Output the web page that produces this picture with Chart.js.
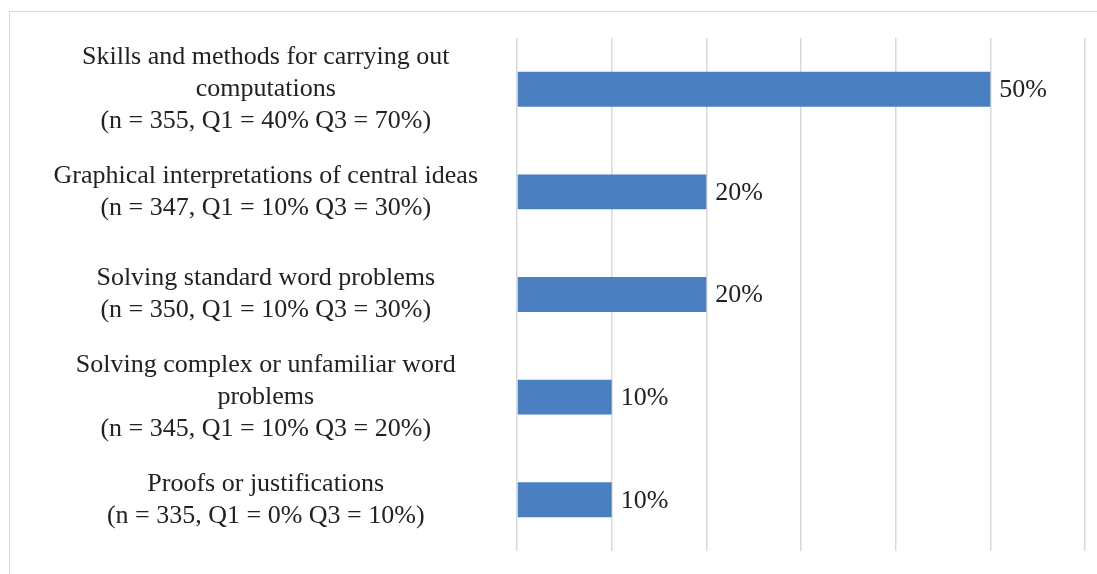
<!DOCTYPE html>
<html>
<head>
<meta charset="utf-8">
<script src="https://cdn.jsdelivr.net/npm/chart.js@4/dist/chart.umd.min.js"></script>
<style>
  body { margin: 0; background: #fff; overflow: hidden; }
  #frame { position: absolute; left: 9px; top: 11px; width: 1200px; height: 600px; border: 1.5px solid #d9d9d9; }
  #wrap { position: absolute; left: 0; top: 0; width: 1097px; height: 574px; }
</style>
</head>
<body>
<div id="frame"></div>
<div id="wrap"><canvas id="chart"></canvas></div>
<script>
const categories = [
  ['Skills and methods for carrying out', 'computations', '(n = 355, Q1 = 40% Q3 = 70%)'],
  ['Graphical interpretations of central ideas', '(n = 347, Q1 = 10% Q3 = 30%)'],
  ['Solving standard word problems', '(n = 350, Q1 = 10% Q3 = 30%)'],
  ['Solving complex or unfamiliar word', 'problems', '(n = 345, Q1 = 10% Q3 = 20%)'],
  ['Proofs or justifications', '(n = 335, Q1 = 0% Q3 = 10%)']
];
const medians = [50, 20, 20, 10, 10];
const axisMax = 60;

const serif = '"Liberation Serif", "Times New Roman", serif';

// draws the value at the end of each bar
const valueLabels = {
  id: 'valueLabels',
  afterDatasetsDraw(chart) {
    const ctx = chart.ctx;
    const meta = chart.getDatasetMeta(0);
    ctx.save();
    ctx.font = '26px ' + serif;
    ctx.fillStyle = '#222';
    ctx.textAlign = 'left';
    ctx.textBaseline = 'middle';
    meta.data.forEach((bar, i) => {
      ctx.fillText(medians[i] + '%', bar.x + 9, bar.y + 1);
    });
    ctx.restore();
  }
};

new Chart(document.getElementById('chart'), {
  type: 'bar',
  data: {
    labels: categories,
    datasets: [{
      data: medians,
      backgroundColor: '#4a7fc1',
      categoryPercentage: 1,
      barPercentage: 0.34
    }]
  },
  options: {
    indexAxis: 'y',
    responsive: true,
    maintainAspectRatio: false,
    animation: false,
    layout: { padding: { top: 38, bottom: 23, right: 12, left: 0 } },
    plugins: { legend: { display: false }, tooltip: { enabled: false } },
    scales: {
      x: {
        min: 0,
        max: axisMax,
        ticks: { display: false, stepSize: 10 },
        grid: { color: '#d9d9d9', lineWidth: 1.5, drawTicks: false },
        border: { display: false }
      },
      y: {
        grid: { display: false, drawTicks: false },
        border: { display: false },
        ticks: {
          crossAlign: 'center',
          padding: 39,
          color: '#222',
          font: { family: serif, size: 26, lineHeight: 1.23 }
        },
        afterFit(scale) {
          scale.width = 517;
          scale.paddingTop = 0;
          scale.paddingBottom = 0;
        }
      }
    }
  },
  plugins: [valueLabels]
});
</script>
</body>
</html>
